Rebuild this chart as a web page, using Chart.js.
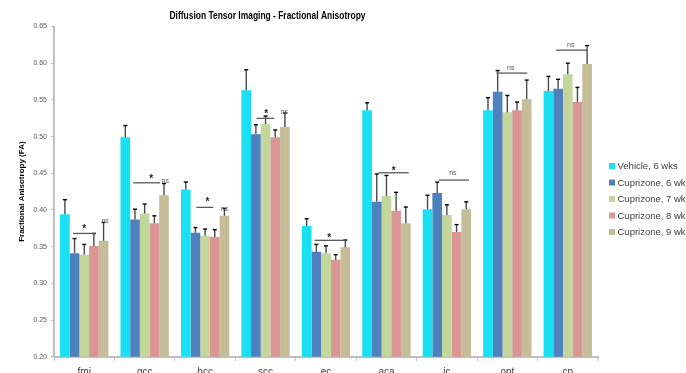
<!DOCTYPE html>
<html>
<head>
<meta charset="utf-8">
<script src="https://cdn.jsdelivr.net/npm/chart.js@4"></script>
<style>
  html, body { margin: 0; padding: 0; background: #fff; }
  #wrap { width: 686px; height: 373px; overflow: hidden; }
</style>
</head>
<body>
<div id="wrap"><canvas id="fa-chart" width="686" height="373"></canvas></div>
<script>
// Regions and group means / upper error ends.
var regions = ["fmi", "gcc", "bcc", "scc", "ec", "aca", "ic", "opt", "cp"];
var groupNames = ["Vehicle, 6 wks", "Cuprizone, 6 wks", "Cuprizone, 7 wks", "Cuprizone, 8 wks", "Cuprizone, 9 wks"];
var groupColors = ["#19E1F3", "#4F81BD", "#C3D69B", "#D99694", "#C4BD97"];

var vehicle6 = [0.394, 0.499, 0.428, 0.563, 0.378, 0.536, 0.401, 0.536, 0.562];
var cupri6 = [0.341, 0.387, 0.369, 0.503, 0.343, 0.411, 0.423, 0.561, 0.565];
var cupri7 = [0.339, 0.395, 0.365, 0.517, 0.341, 0.419, 0.393, 0.533, 0.585];
var cupri8 = [0.351, 0.382, 0.363, 0.499, 0.332, 0.399, 0.370, 0.536, 0.547];
var cupri9 = [0.358, 0.420, 0.392, 0.513, 0.349, 0.382, 0.401, 0.551, 0.599];

var vehicle6Err = [0.414, 0.515, 0.438, 0.591, 0.388, 0.546, 0.420, 0.553, 0.582];
var cupri6Err = [0.361, 0.401, 0.376, 0.516, 0.353, 0.449, 0.438, 0.590, 0.578];
var cupri7Err = [0.353, 0.408, 0.374, 0.528, 0.351, 0.447, 0.407, 0.556, 0.600];
var cupri8Err = [0.368, 0.392, 0.373, 0.509, 0.339, 0.424, 0.380, 0.547, 0.567];
var cupri9Err = [0.383, 0.436, 0.402, 0.532, 0.359, 0.404, 0.411, 0.577, 0.624];

var yTicks = [0.20, 0.25, 0.30, 0.35, 0.40, 0.45, 0.50, 0.55, 0.60, 0.65];

// Significance brackets: [region, from bar, to bar, level]
var brackets = [
  [0, 0.84, 3.12, 0.368],
  [1, 0.81, 3.61, 0.437],
  [2, 1.09, 2.85, 0.4035],
  [3, 1.05, 2.89, 0.5248],
  [4, 0.81, 4.02, 0.3586],
  [5, 1.19, 4.30, 0.4507],
  [6, 1.17, 4.28, 0.4407],
  [7, 0.88, 4.05, 0.5865],
  [8, 0.79, 3.97, 0.6178]
];
// Significance marks: [region, bar position, level, text]
var marks = [
  [0, 2.0, 0.377, "*"], [0, 4.16, 0.385, "ns"],
  [1, 2.68, 0.445, "*"], [1, 4.13, 0.439, "ns"],
  [2, 2.23, 0.4135, "*"], [2, 3.99, 0.401, "ns"],
  [3, 2.06, 0.533, "*"], [3, 3.95, 0.533, "ns"],
  [4, 2.33, 0.364, "*"],
  [5, 2.75, 0.455, "*"],
  [6, 2.62, 0.4497, "ns"],
  [7, 2.36, 0.5933, "ns"],
  [8, 2.30, 0.6247, "ns"]
];

var seriesValues = [vehicle6, cupri6, cupri7, cupri8, cupri9];
var seriesErrors = [vehicle6Err, cupri6Err, cupri7Err, cupri8Err, cupri9Err];

var datasets = seriesValues.map(function (vals, i) {
  return {
    label: groupNames[i],
    data: vals,
    errTop: seriesErrors[i],
    backgroundColor: groupColors[i],
    borderWidth: 0,
    categoryPercentage: 0.8,
    barPercentage: 1.0
  };
});

// Error bars, brackets, title and legend.
var extrasPlugin = {
  id: "extras",
  afterDatasetsDraw: function (chart) {
    var ctx = chart.ctx;
    var xs = chart.scales.x;
    var ys = chart.scales.y;
    ctx.save();

    chart.data.datasets.forEach(function (ds, di) {
      var meta = chart.getDatasetMeta(di);
      meta.data.forEach(function (bar, i) {
        var yTop = ys.getPixelForValue(ds.errTop[i]);
        ctx.strokeStyle = "#4a4a4a";
        ctx.lineWidth = 1.4;
        ctx.beginPath();
        ctx.moveTo(bar.x, bar.y);
        ctx.lineTo(bar.x, yTop);
        ctx.stroke();
        ctx.strokeStyle = "#000";
        ctx.lineWidth = 1.4;
        ctx.beginPath();
        ctx.moveTo(bar.x - 2, yTop);
        ctx.lineTo(bar.x + 2, yTop);
        ctx.stroke();
      });
    });

    var bw = chart.getDatasetMeta(0).data[0].width;
    function barX(region, pos) {
      return xs.getPixelForValue(region) + (pos - 2) * bw;
    }

    ctx.strokeStyle = "#595959";
    ctx.lineWidth = 1.3;
    brackets.forEach(function (b) {
      var y = ys.getPixelForValue(b[3]);
      ctx.beginPath();
      ctx.moveTo(barX(b[0], b[1]), y);
      ctx.lineTo(barX(b[0], b[2]), y);
      ctx.stroke();
    });

    ctx.textAlign = "center";
    ctx.textBaseline = "middle";
    marks.forEach(function (m) {
      var x = barX(m[0], m[1]);
      var y = ys.getPixelForValue(m[2]);
      if (m[3] === "*") {
        ctx.fillStyle = "#222";
        ctx.font = "bold 10px 'Liberation Sans'";
        ctx.fillText(m[3], x, y + 2);
      } else {
        ctx.fillStyle = "#595959";
        ctx.font = "7px 'Liberation Sans'";
        ctx.fillText(m[3], x, y);
      }
    });

    // Title
    ctx.fillStyle = "#000";
    ctx.font = "bold 10.5px 'Liberation Sans'";
    ctx.fillText("Diffusion Tensor Imaging - Fractional Anisotropy", 267.5, 16, 196);

    // Legend
    ctx.textAlign = "left";
    ctx.font = "9.5px 'Liberation Sans'";
    chart.data.datasets.forEach(function (ds, di) {
      var cy = 166 + di * 16.5;
      ctx.fillStyle = ds.backgroundColor;
      ctx.fillRect(609, cy - 3, 6, 6);
      ctx.fillStyle = "#404040";
      ctx.fillText(ds.label, 617.5, cy + 0.5);
    });
    ctx.restore();
  }
};

var ctx = document.getElementById("fa-chart").getContext("2d");
var faChart = new Chart(ctx, {
  type: "bar",
  data: { labels: regions, datasets: datasets },
  plugins: [extrasPlugin],
  options: {
    responsive: false,
    animation: false,
    layout: { padding: { top: 26.5, right: 88, left: 0, bottom: 0 } },
    plugins: {
      legend: { display: false },
      title: { display: false },
      tooltip: { enabled: false }
    },
    scales: {
      x: {
        grid: {
          display: true,
          drawOnChartArea: false,
          offset: true,
          color: "#BFBFBF",
          tickLength: 4
        },
        border: { color: "#BFBFBF", width: 2 },
        ticks: {
          color: "#404040",
          font: { family: "'Liberation Sans'", size: 10 },
          padding: 6,
          maxRotation: 0
        },
        afterFit: function (scale) { scale.height = 16.3; }
      },
      y: {
        min: 0.2,
        max: 0.65,
        afterBuildTicks: function (scale) {
          scale.ticks = yTicks.map(function (v) { return { value: v }; });
        },
        grid: {
          display: true,
          drawOnChartArea: false,
          color: "#BFBFBF",
          tickLength: 3
        },
        border: { color: "#BFBFBF", width: 2 },
        ticks: {
          color: "#595959",
          font: { family: "'Liberation Sans'", size: 7 },
          padding: 4,
          callback: function (v) { return Number(v).toFixed(2); }
        },
        title: {
          display: true,
          text: "Fractional Anisotropy (FA)",
          color: "#000",
          font: { family: "'Liberation Sans'", size: 8, weight: "bold" },
          padding: { top: 17, bottom: 0 }
        },
        afterFit: function (scale) { scale.width = 54; }
      }
    }
  }
});
</script>
</body>
</html>
